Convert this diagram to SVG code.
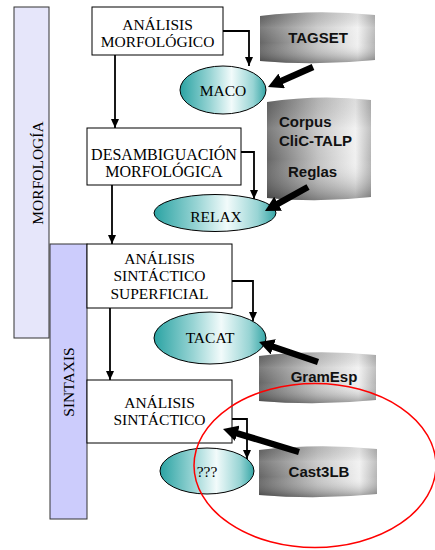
<svg xmlns="http://www.w3.org/2000/svg" width="435" height="550" viewBox="0 0 435 550">
<style>
.box{fill:#fff;stroke:#000;stroke-width:1}
.bt{font-family:"Liberation Serif","Times New Roman",serif;font-size:15.5px;text-anchor:middle;fill:#000}
.ell{fill:url(#teal);stroke:#000;stroke-width:1}
.can{fill:url(#grayH)}
.shade{fill:url(#grayV)}
.ct{font-family:"Liberation Sans",Arial,sans-serif;font-size:15px;font-weight:bold;fill:#111}
.thin{fill:none;stroke:#000;stroke-width:1.8}
.thick{fill:none;stroke:#000;stroke-width:6.5}
</style>
<defs>
<linearGradient id="teal" x1="0" y1="0" x2="1" y2="0">
<stop offset="0" stop-color="#2aa3a3"/>
<stop offset="0.35" stop-color="#98d4d4"/>
<stop offset="0.6" stop-color="#f2fbfb"/>
<stop offset="0.85" stop-color="#98d4d4"/>
<stop offset="1" stop-color="#35a6a6"/>
</linearGradient>
<linearGradient id="grayH" x1="0" y1="0" x2="1" y2="0">
<stop offset="0" stop-color="#666"/>
<stop offset="0.5" stop-color="#c4c4c4"/>
<stop offset="0.85" stop-color="#f0f0f0"/>
<stop offset="1" stop-color="#b5b5b5"/>
</linearGradient>
<linearGradient id="grayV" x1="0" y1="0" x2="0" y2="1">
<stop offset="0" stop-color="#000" stop-opacity="0.08"/>
<stop offset="0.3" stop-color="#fff" stop-opacity="0.15"/>
<stop offset="0.6" stop-color="#fff" stop-opacity="0"/>
<stop offset="1" stop-color="#000" stop-opacity="0.35"/>
</linearGradient>
<marker id="ah" viewBox="0 -4 9 8" refX="9" refY="0" markerWidth="9" markerHeight="8" markerUnits="userSpaceOnUse" orient="auto">
<path d="M0,-4 L9,0 L0,4 Z" fill="#000"/>
</marker>
<marker id="big" viewBox="0 -8 15 16" refX="1" refY="0" markerWidth="15" markerHeight="16" markerUnits="userSpaceOnUse" orient="auto">
<path d="M0,-8 L15,0 L0,8 Z" fill="#000"/>
</marker>
</defs>

<g id="morfologia">
<rect x="14" y="7" width="35" height="331" fill="#e6e6fa" stroke="#333" stroke-width="1"/>
<text class="bt" transform="translate(43,173) rotate(-90)">MORFOLOGÍA</text>
</g>
<g id="sintaxis">
<rect x="50" y="244" width="37" height="275" fill="#ccccfc" stroke="#333" stroke-width="1"/>
<text class="bt" transform="translate(74,382) rotate(-90)">SINTAXIS</text>
</g>

<g id="analisis-morfologico">
<rect class="box" x="92" y="7" width="131" height="48"/>
<text class="bt" x="157.5" y="30">ANÁLISIS</text>
<text class="bt" x="157.5" y="47">MORFOLÓGICO</text>
</g>
<g id="desambiguacion">
<rect class="box" x="87" y="128" width="154" height="57"/>
<text class="bt" x="164" y="160" style="font-size:16px">DESAMBIGUACIÓN</text>
<text class="bt" x="164" y="177" style="font-size:16px">MORFOLÓGICA</text>
</g>
<g id="analisis-superficial">
<rect class="box" x="87" y="244" width="145" height="64"/>
<text class="bt" x="159.5" y="264">ANÁLISIS</text>
<text class="bt" x="159.5" y="281">SINTÁCTICO</text>
<text class="bt" x="159.5" y="299">SUPERFICIAL</text>
</g>
<g id="analisis-sintactico">
<rect class="box" x="87" y="380" width="145" height="63"/>
<text class="bt" x="159.5" y="408">ANÁLISIS</text>
<text class="bt" x="159.5" y="425">SINTÁCTICO</text>
</g>

<g id="maco">
<ellipse class="ell" cx="223" cy="90" rx="43" ry="24"/>
<text class="bt" x="223" y="96">MACO</text>
</g>
<g id="relax">
<ellipse class="ell" cx="215" cy="213" rx="61" ry="18.5"/>
<text class="bt" x="216" y="222">RELAX</text>
</g>
<g id="tacat">
<ellipse class="ell" cx="210" cy="338" rx="56" ry="26"/>
<text class="bt" x="210" y="343">TACAT</text>
</g>
<g id="unknown">
<ellipse class="ell" cx="207" cy="471" rx="47" ry="23"/>
<text class="bt" x="207" y="477">???</text>
</g>

<g id="tagset">
<path class="can" d="M260,16 Q317,9 375,15 L375,60 Q317,66 260,61 Z"/>
<path class="shade" d="M260,16 Q317,9 375,15 L375,60 Q317,66 260,61 Z"/>
<text class="ct" x="318" y="43" text-anchor="middle">TAGSET</text>
</g>
<g id="corpus">
<path class="can" d="M267,102 Q319,94 371,100 L371,197 Q319,203 267,198 Z"/>
<path class="shade" d="M267,102 Q319,94 371,100 L371,197 Q319,203 267,198 Z"/>
<text class="ct" x="279" y="127">Corpus</text>
<text class="ct" x="279" y="146">CliC-TALP</text>
<text class="ct" x="288" y="177">Reglas</text>
</g>
<g id="gramesp">
<path class="can" d="M259,356 Q317,349 376,355 L376,400 Q317,406 259,401 Z"/>
<path class="shade" d="M259,356 Q317,349 376,355 L376,400 Q317,406 259,401 Z"/>
<text class="ct" x="324" y="382" text-anchor="middle">GramEsp</text>
</g>
<g id="cast3lb">
<path class="can" d="M259,450 Q318,443 377,449 L377,494 Q318,500 259,495 Z"/>
<path class="shade" d="M259,450 Q318,443 377,449 L377,494 Q318,500 259,495 Z"/>
<text class="ct" x="319" y="477" text-anchor="middle">Cast3LB</text>
</g>

<g id="connectors">
<path class="thin" d="M223,31 H249 V66" marker-end="url(#ah)"/>
<path class="thin" d="M115,55 V128" marker-end="url(#ah)"/>
<path class="thin" d="M241,152 H254 V199" marker-end="url(#ah)"/>
<path class="thin" d="M112,185 V244" marker-end="url(#ah)"/>
<path class="thin" d="M232,281 H253 V321" marker-end="url(#ah)"/>
<path class="thin" d="M110,308 V380" marker-end="url(#ah)"/>
<path class="thin" d="M232,419 H247 V459" marker-end="url(#ah)"/>
<path class="thick" d="M313,67 L280.8,81.3" marker-end="url(#big)"/>
<path class="thick" d="M308,187 L277.2,204.2" marker-end="url(#big)"/>
<path class="thick" d="M318,362 L272.3,346.5" marker-end="url(#big)"/>
<path class="thick" d="M299,452 L236.4,433.1" marker-end="url(#big)"/>
</g>

<ellipse id="highlight" cx="315" cy="465.5" rx="121" ry="82" fill="none" stroke="#ff0000" stroke-width="1.5"/>
</svg>
